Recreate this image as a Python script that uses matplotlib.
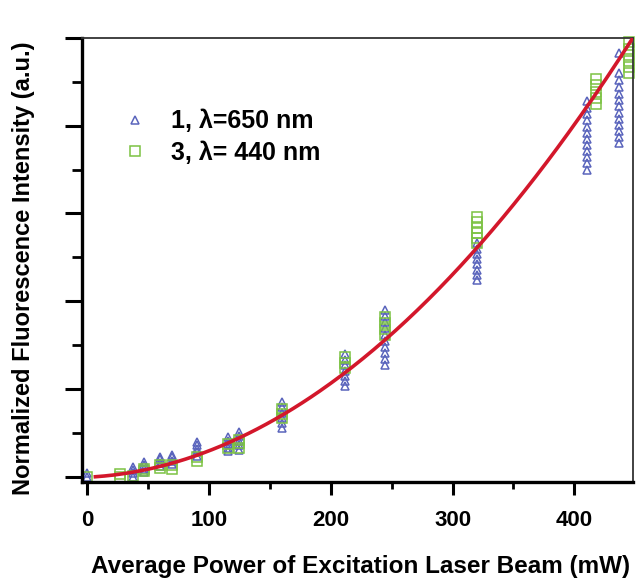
import numpy as np
import matplotlib
matplotlib.use('Agg')
from matplotlib import pyplot as plt
from matplotlib.ticker import MultipleLocator, NullFormatter

plt.rcParams['font.family'] = ['Liberation Sans', 'DejaVu Sans']
plt.rcParams['font.weight'] = 'bold'

# excitation power (mW) and normalized intensities, one list per power step
blue_power = [0, 38, 47, 60, 70, 90, 116, 125, 160, 212, 245, 320, 410, 437]
blue_intensity = [
    [0.0, 0.04],
    [0.0, 0.04, 0.08, 0.11],
    [0.05, 0.09, 0.13, 0.17],
    [0.12, 0.16, 0.2, 0.23],
    [0.14, 0.18, 0.22, 0.25],
    [0.24, 0.28, 0.32, 0.36, 0.4],
    [0.29, 0.33, 0.37, 0.41, 0.45],
    [0.31, 0.36, 0.41, 0.46, 0.51],
    [0.55, 0.61, 0.67, 0.73, 0.79, 0.85],
    [1.03, 1.09, 1.15, 1.21, 1.27, 1.33, 1.4],
    [1.27, 1.34, 1.41, 1.48, 1.55, 1.62, 1.69, 1.76, 1.83, 1.9],
    [2.24, 2.3, 2.36, 2.42, 2.48, 2.54, 2.6, 2.66],
    [3.5, 3.57, 3.64, 3.71, 3.78, 3.85, 3.92, 3.99, 4.06, 4.13, 4.2, 4.28],
    [3.8, 3.87, 3.94, 4.01, 4.08, 4.15, 4.22, 4.29, 4.36, 4.44, 4.52, 4.6, 4.83],
]

green_power = [0, 27, 38, 47, 60, 70, 90, 116, 125, 160, 212, 245, 320, 418, 445]
green_intensity = [
    [0.0],
    [0.0, 0.03],
    [0.01],
    [0.06, 0.09],
    [0.1, 0.13],
    [0.09, 0.13],
    [0.18, 0.23],
    [0.33, 0.37],
    [0.33, 0.38, 0.42],
    [0.67, 0.72, 0.77],
    [1.24, 1.3, 1.36],
    [1.61, 1.68, 1.75, 1.82],
    [2.66, 2.72, 2.78, 2.84, 2.9, 2.96],
    [4.25, 4.32, 4.39, 4.46, 4.53],
    [4.6, 4.67, 4.74, 4.81, 4.88, 4.95],
]

# quadratic fit (a, b, c) and the power range it covers
fit_coeffs = [2.35e-5, 6.5e-4, -0.006]
fit_range = (7, 448)


def flatten(powers, groups):
    xs, ys = [], []
    for p, vals in zip(powers, groups):
        xs += [p] * len(vals)
        ys += vals
    return xs, ys


fig = plt.figure(figsize=(6.38, 5.80), dpi=100)
ax = fig.add_axes([0.1285, 0.169, 0.8635, 0.7655])

bx, by = flatten(blue_power, blue_intensity)
gx, gy = flatten(green_power, green_intensity)

ax.plot(bx, by, linestyle='none', marker='^', markersize=5.5, mfc='none',
        mec='#5a64bc', mew=1.1, label='1, \u03bb=650 nm', clip_on=False)
ax.plot(gx, gy, linestyle='none', marker='s', markersize=7.2, mfc='none',
        mec='#7cc243', mew=1.1, label='3, \u03bb= 440 nm', clip_on=False)

fx = np.linspace(fit_range[0], fit_range[1], 300)
ax.plot(fx, np.polyval(fit_coeffs, fx), color='#d3172b', lw=2.6, zorder=5)

ax.set_xlim(-4, 448)
ax.set_ylim(-0.06, 5)

ax.xaxis.set_major_locator(MultipleLocator(100))
ax.xaxis.set_minor_locator(MultipleLocator(50))
ax.yaxis.set_major_locator(MultipleLocator(1))
ax.yaxis.set_minor_locator(MultipleLocator(0.5))
ax.yaxis.set_major_formatter(NullFormatter())

ax.tick_params(axis='x', which='major', direction='out', length=9, width=2.2,
               labelsize=16, pad=11)
ax.tick_params(axis='x', which='minor', direction='out', length=5, width=2)
ax.tick_params(axis='y', which='major', direction='out', length=12, width=2.2)
ax.tick_params(axis='y', which='minor', direction='out', length=7, width=2)

for side in ['left', 'bottom']:
    ax.spines[side].set_linewidth(2.4)
for side in ['top', 'right']:
    ax.spines[side].set_linewidth(1.3)
    ax.spines[side].set_color('#333333')

fig.text(361 / 638, 1 - 566 / 580, 'Average Power of Excitation Laser Beam (mW)',
         fontsize=17.5, fontweight='bold', ha='center', va='center')
fig.text(24 / 638, 1 - 268 / 580, 'Normalized Fluorescence Intensity (a.u.)',
         fontsize=17, fontweight='bold', ha='center', va='center',
         rotation=90)

leg = ax.legend(loc='upper left', bbox_to_anchor=(0.032, 0.89), frameon=False,
                fontsize=18, handletextpad=0.95, labelspacing=0.3,
                markerscale=1.0, handlelength=1.0)

fig.savefig('out.png', dpi=100)
